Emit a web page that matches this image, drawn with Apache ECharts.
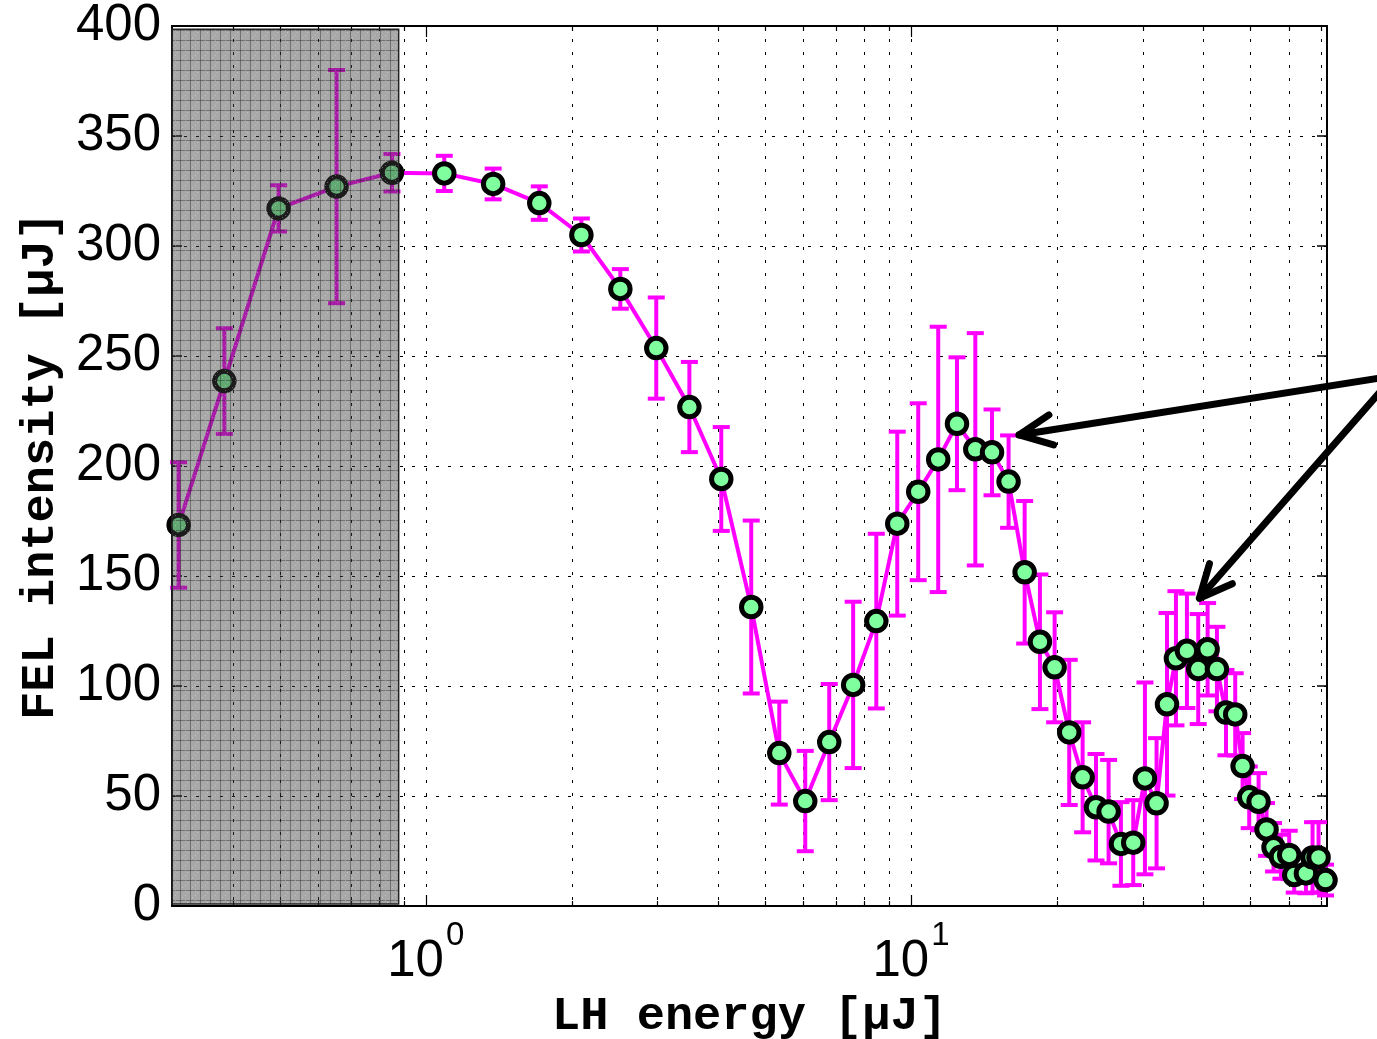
<!DOCTYPE html>
<html><head><meta charset="utf-8">
<script src="https://cdn.jsdelivr.net/npm/echarts@6/dist/echarts.min.js"></script>
<style>html,body{margin:0;padding:0;background:#fff}#c{width:1377px;height:1039px}</style>
</head><body><div id="c"></div>
<script>
// ---- data ----
const energy = [0.3096, 0.3846, 0.4975, 0.655, 0.852, 1.092, 1.377, 1.714, 2.093, 2.518, 2.986, 3.494, 4.065, 4.686, 5.353, 6.055, 6.785, 7.60, 8.483, 9.37, 10.35, 11.38, 12.44, 13.57, 14.69, 15.89, 17.15, 18.44, 19.77, 21.19, 22.58, 24.06, 25.54, 27.08, 28.71, 30.35, 32.07, 33.7, 35.16, 37.04, 39.08, 40.86, 42.71, 44.58, 46.58, 48.24, 49.78, 52.04, 54.04, 55.87, 57.86, 60.18, 61.63, 65.15, 67.23, 69.17, 71.5];
const intensity = [173.2, 238.6, 317.1, 327.0, 333.3, 333.0, 328.2, 319.5, 305.0, 280.5, 253.6, 226.8, 194.1, 135.9, 69.5, 47.7, 74.5, 100.5, 129.5, 173.8, 188.3, 203.0, 219.2, 207.6, 206.2, 192.9, 151.7, 120.1, 108.5, 78.9, 58.5, 44.9, 42.9, 28.2, 28.8, 58.0, 46.7, 91.7, 112.6, 116.0, 107.7, 116.7, 107.7, 87.9, 87.1, 63.6, 49.4, 47.4, 34.8, 26.7, 22.4, 23.2, 14.1, 14.8, 22.1, 22.1, 11.8];
const errHalf = [28.5, 24, 10.5, 53, 8.5, 8, 7, 7.6, 7.5, 9, 23, 20.5, 23.6, 39.3, 23.4, 22.8, 26.4, 37.8, 39.7, 41.8, 40.2, 60.3, 30.2, 52.8, 19.5, 21, 32.4, 30.6, 25, 33, 25, 24.2, 23.5, 19, 19.3, 43.6, 29.6, 41.5, 30.5, 26, 25, 21, 19.2, 19.4, 18.7, 15, 14, 13, 12, 11, 10, 11, 8, 9, 16, 16, 7];
const xRange = [0.3, 72];
const yRange = [0, 400];
const yStep = 50;
const xGrid = [0.4, 0.5, 0.6, 0.7, 0.8, 0.9, 1, 2, 3, 4, 5, 6, 7, 8, 9, 10, 20, 30, 40, 50, 60, 70];
const xMajor = [1, 10];
const shadeX = [0.3, 0.8795];
const shadeY = [0.9, 398.5];
const arrowFrom = [99, 241];
const arrowTips = [[16.7, 214.1], [39.3, 139.9]];
const xTitle = 'LH energy [μJ]';
const yTitle = 'FEL intensity [μJ]';

const sansFont = "'Liberation Sans', Arial, Helvetica, sans-serif";
const monoFont = "'Liberation Mono', 'Courier New', monospace";

// hatch pattern for the grey overlay
const pc = document.createElement('canvas'); pc.width = 10; pc.height = 10;
const g = pc.getContext('2d');
g.fillStyle = 'rgba(62,62,62,0.45)'; g.fillRect(0, 0, 10, 10);
g.fillStyle = 'rgba(25,25,25,0.38)'; g.fillRect(0, 0, 10, 1); g.fillRect(0, 0, 1, 10);
g.fillStyle = 'rgba(255,255,255,0.30)';
g.fillRect(5, 5, 1, 1); g.fillRect(2, 7, 1, 1); g.fillRect(7, 2, 1, 1); g.fillRect(5, 0, 1, 1);

const chart = echarts.init(document.getElementById('c'), null, {renderer: 'canvas'});

function isDecade(v) { const l = Math.log10(v); return Math.abs(l - Math.round(l)) < 1e-6; }

const axisLineStyle = {color: '#000', width: 2};

chart.setOption({
  animation: false,
  backgroundColor: '#fff',
  grid: {left: 172, right: 50, top: 26, bottom: 133, containLabel: false, outerBoundsMode: 'none'},
  xAxis: [{
    type: 'log', logBase: 10, min: xRange[0], max: xRange[1],
    axisLine: {show: true, onZero: false, lineStyle: axisLineStyle},
    axisTick: {show: false}, splitLine: {show: false}, minorTick: {show: false},
    axisLabel: {
      margin: 30,
      formatter: function (v) {
        if (!isDecade(v)) return '';
        return '{b|10}{s|' + Math.round(Math.log10(v)) + '}';
      },
      rich: {
        b: {fontSize: 51, lineHeight: 51, fontFamily: sansFont, color: '#000', verticalAlign: 'bottom'},
        s: {fontSize: 33, lineHeight: 33, fontFamily: sansFont, color: '#000', verticalAlign: 'bottom', padding: [0, 0, 35, 2]}
      }
    },
    name: xTitle, nameLocation: 'middle', nameGap: 88,
    nameTextStyle: {fontFamily: monoFont, fontWeight: 'bold', fontSize: 47, color: '#000'}
  }, {
    type: 'log', logBase: 10, min: xRange[0], max: xRange[1], position: 'top',
    axisLine: {show: true, onZero: false, lineStyle: axisLineStyle},
    axisTick: {show: false}, axisLabel: {show: false}, splitLine: {show: false}
  }],
  yAxis: [{
    type: 'value', min: yRange[0], max: yRange[1], interval: yStep,
    axisLine: {show: true, lineStyle: axisLineStyle},
    axisTick: {show: true, inside: true, length: 10, lineStyle: {color: '#000', width: 1.5}},
    axisLabel: {fontSize: 51, fontFamily: sansFont, color: '#000', margin: 11},
    splitLine: {show: true, lineStyle: {color: '#000', width: 1, type: [3, 9]}},
    name: yTitle, nameLocation: 'middle', nameGap: 106, nameRotate: 90,
    nameTextStyle: {fontFamily: monoFont, fontWeight: 'bold', fontSize: 47, color: '#000'}
  }, {
    type: 'value', min: yRange[0], max: yRange[1], interval: yStep, position: 'right',
    axisLine: {show: true, lineStyle: axisLineStyle},
    axisTick: {show: true, inside: true, length: 10, lineStyle: {color: '#000', width: 1.5}},
    axisLabel: {show: false}, splitLine: {show: false}
  }],
  series: [
    { // vertical grid lines + x ticks (top and bottom)
      type: 'custom', z: 1, silent: true,
      data: xGrid.map(v => [v, 0]),
      encode: {x: 0, y: 1},
      renderItem: function (params, api) {
        const v = api.value(0);
        const cs = params.coordSys;
        const x = Math.round(api.coord([v, 0])[0]) + 0.5;
        const major = xMajor.indexOf(v) >= 0;
        const tl = major ? 11 : 5;
        const yb = cs.y + cs.height, yt = cs.y;
        const tickStyle = {stroke: '#000', lineWidth: 1.2};
        return {type: 'group', children: [
          {type: 'line', shape: {x1: x, y1: yt, x2: x, y2: yb}, style: {stroke: '#000', lineWidth: 1, lineDash: [3, 10]}},
          {type: 'line', shape: {x1: x, y1: yb, x2: x, y2: yb - tl}, style: tickStyle},
          {type: 'line', shape: {x1: x, y1: yt, x2: x, y2: yt + tl}, style: tickStyle}
        ]};
      }
    },
    { // error bars
      type: 'custom', z: 3, silent: true,
      data: energy.map((x, i) => [x, intensity[i] - errHalf[i], intensity[i] + errHalf[i]]),
      encode: {x: 0, y: [1, 2]},
      renderItem: function (params, api) {
        const x = api.value(0);
        const p0 = api.coord([x, api.value(1)]);
        const p1 = api.coord([x, api.value(2)]);
        const hw = 8.5;
        const st = {stroke: '#ff00ff', lineWidth: 4, fill: null};
        return {type: 'group', children: [
          {type: 'line', shape: {x1: p0[0], y1: p0[1], x2: p1[0], y2: p1[1]}, style: st},
          {type: 'line', shape: {x1: p0[0] - hw, y1: p0[1], x2: p0[0] + hw, y2: p0[1]}, style: st},
          {type: 'line', shape: {x1: p1[0] - hw, y1: p1[1], x2: p1[0] + hw, y2: p1[1]}, style: st}
        ]};
      }
    },
    { // data line with markers
      type: 'line', z: 5, clip: false, silent: true,
      data: energy.map((x, i) => [x, intensity[i]]),
      symbol: 'circle', symbolSize: 19.5, showAllSymbol: true,
      lineStyle: {color: '#ff00ff', width: 4},
      itemStyle: {color: '#80ff9f', borderColor: '#000', borderWidth: 5},
      emphasis: {disabled: true}
    },
    { // grey overlay
      type: 'custom', z: 10, silent: true,
      data: [[shadeX[0], shadeX[1], shadeY[0], shadeY[1]]],
      encode: {x: [0, 1], y: [2, 3]},
      renderItem: function (params, api) {
        const a = api.coord([api.value(0), api.value(3)]);
        const b = api.coord([api.value(1), api.value(2)]);
        return {type: 'rect', shape: {x: a[0], y: a[1], width: b[0] - a[0], height: b[1] - a[1]},
          style: {fill: {image: pc, repeat: 'repeat'}, stroke: '#222', lineWidth: 1.5}};
      }
    }
  ]
});

// arrows (annotation), positioned in data coordinates
const from = chart.convertToPixel({xAxisIndex: 0, yAxisIndex: 0}, arrowFrom);
const graphics = [];
arrowTips.forEach(function (tip) {
  const t = chart.convertToPixel({xAxisIndex: 0, yAxisIndex: 0}, tip);
  const dx = from[0] - t[0], dy = from[1] - t[1];
  const len = Math.sqrt(dx * dx + dy * dy);
  const ux = dx / len, uy = dy / len;
  const ang = 25 * Math.PI / 180, hl = 36;
  const c = Math.cos(ang), s = Math.sin(ang);
  const b1 = [t[0] + hl * (ux * c - uy * s), t[1] + hl * (ux * s + uy * c)];
  const b2 = [t[0] + hl * (ux * c + uy * s), t[1] + hl * (-ux * s + uy * c)];
  const st = {stroke: '#000', lineWidth: 7, lineCap: 'round', lineJoin: 'round', fill: null};
  graphics.push({type: 'polyline', z: 100, shape: {points: [from, t]}, style: st});
  graphics.push({type: 'polyline', z: 100, shape: {points: [b1, t, b2]}, style: st});
});
chart.setOption({graphic: graphics});
</script>
</body></html>
